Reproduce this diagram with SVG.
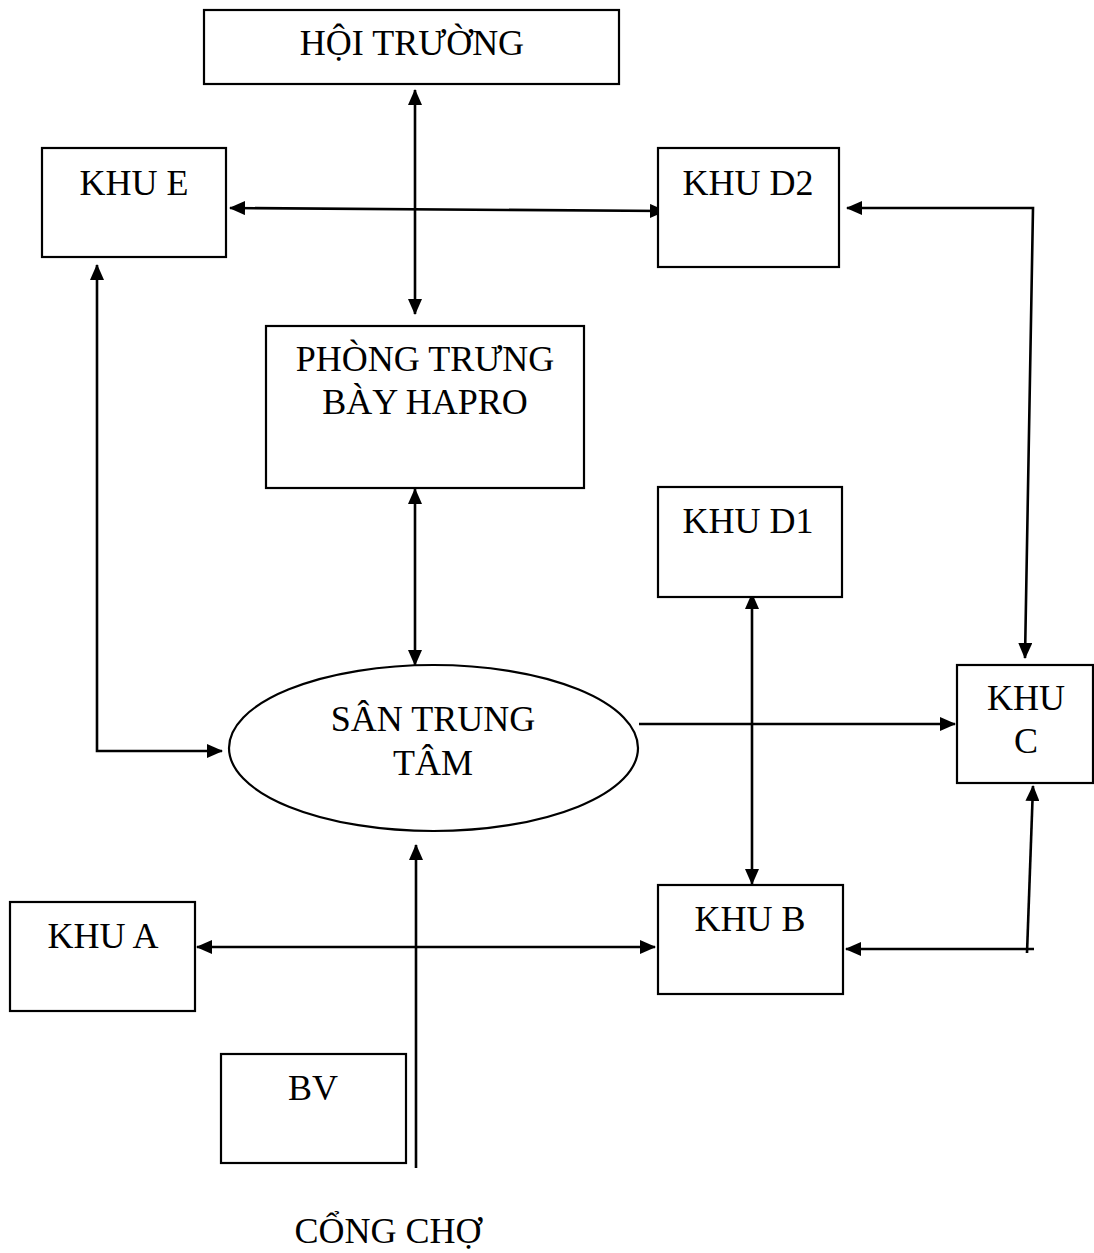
<svg xmlns="http://www.w3.org/2000/svg" width="1094" height="1253" viewBox="0 0 1094 1253">
<style>
.box{fill:#fff;stroke:#000;stroke-width:2.2}
.t{font-family:'Liberation Serif','DejaVu Serif',serif;font-size:36px;fill:#000;text-anchor:middle}
.c{fill:none;stroke:#000;stroke-width:2.6}
</style>
<defs>
<marker id="ah" markerUnits="userSpaceOnUse" viewBox="0 0 16 14" markerWidth="16" markerHeight="14" refX="15" refY="7" orient="auto-start-reverse">
<path d="M0,0 L16,7 L0,14 z" fill="#000"/>
</marker>
</defs>
<rect width="1094" height="1253" fill="#fff"/>
<g id="connectors">
<path class="c" d="M415,90 V314" marker-start="url(#ah)" marker-end="url(#ah)"/>
<path class="c" d="M230,208 L665,211" marker-start="url(#ah)" marker-end="url(#ah)"/>
<path class="c" d="M847,208 H1033 L1025,658" marker-start="url(#ah)" marker-end="url(#ah)"/>
<path class="c" d="M97,265 V751 H222" marker-start="url(#ah)" marker-end="url(#ah)"/>
<path class="c" d="M415,489 V665" marker-start="url(#ah)" marker-end="url(#ah)"/>
<path class="c" d="M639,724 H955" marker-end="url(#ah)"/>
<path class="c" d="M752,594 V884" marker-start="url(#ah)" marker-end="url(#ah)"/>
<path class="c" d="M846,949 H1034" marker-start="url(#ah)"/>
<path class="c" d="M1027,953 L1033,786" marker-end="url(#ah)"/>
<path class="c" d="M197,947 H655" marker-start="url(#ah)" marker-end="url(#ah)"/>
<path class="c" d="M416,1168 V845" marker-end="url(#ah)"/>
</g>
<g id="hoi-truong"><rect class="box" x="204" y="10" width="415" height="74"/><text class="t" x="412" y="55">HỘI TRƯỜNG</text></g>
<g id="khu-e"><rect class="box" x="42" y="148" width="184" height="109"/><text class="t" x="134" y="195">KHU E</text></g>
<g id="khu-d2"><rect class="box" x="658" y="148" width="181" height="119"/><text class="t" x="748" y="195">KHU D2</text></g>
<g id="phong-trung-bay"><rect class="box" x="266" y="326" width="318" height="162"/><text class="t" x="425" y="371">PHÒNG TRƯNG</text><text class="t" x="425" y="414">BÀY HAPRO</text></g>
<g id="khu-d1"><rect class="box" x="658" y="487" width="184" height="110"/><text class="t" x="748" y="533">KHU D1</text></g>
<g id="san-trung-tam"><ellipse class="box" cx="433.5" cy="748" rx="204.5" ry="83"/><text class="t" x="433" y="731">SÂN TRUNG</text><text class="t" x="433" y="775">TÂM</text></g>
<g id="khu-c"><rect class="box" x="957" y="665" width="136" height="118"/><text class="t" x="1026" y="710">KHU</text><text class="t" x="1026" y="753">C</text></g>
<g id="khu-b"><rect class="box" x="658" y="885" width="185" height="109"/><text class="t" x="750" y="931">KHU B</text></g>
<g id="khu-a"><rect class="box" x="10" y="902" width="185" height="109"/><text class="t" x="103" y="948">KHU A</text></g>
<g id="bv"><rect class="box" x="221" y="1054" width="185" height="109"/><text class="t" x="313" y="1100">BV</text></g>
<g id="cong-cho"><text class="t" x="388" y="1243">CỔNG CHỢ</text></g>
</svg>
